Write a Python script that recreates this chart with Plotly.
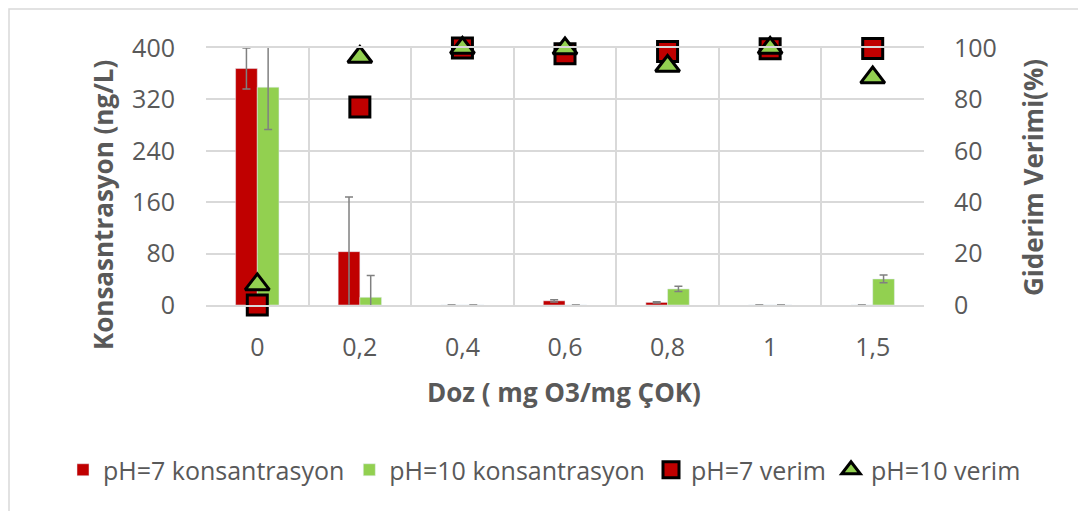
import plotly.graph_objects as go

categories = ["0", "0,2", "0,4", "0,6", "0,8", "1", "1,5"]
ph7_conc = [368, 83, 0, 6.5, 4, 0, 0]
ph7_conc_err = [32, 85, None, 1.7, 1, None, None]
ph10_conc = [339, 12, 0, 0, 25, 0, 40.5]
ph10_conc_err = [66, 34, None, None, 4, None, 6]
ph7_eff = [0, 77, 100, 97.8, 98.6, 99.7, 99.8]
ph10_eff = [8, 96.5, 100, 99.8, 93, 100, 88.5]

RED = "#C00000"
GREEN = "#92D050"
TXT = "#595959"
GRID = "#D9D9D9"
FONT = "Open Sans"

fig = go.Figure()
fig.add_trace(go.Bar(
    x=categories, y=ph7_conc, name="pH=7 konsantrasyon", marker_color=RED, legend="legend",
    error_y=dict(type="data", array=ph7_conc_err, color="#808080", thickness=1.5, width=4),
))
fig.add_trace(go.Bar(
    x=categories, y=ph10_conc, name="pH=10 konsantrasyon", marker_color=GREEN, legend="legend",
    error_y=dict(type="data", array=ph10_conc_err, color="#808080", thickness=1.5, width=4),
))
fig.add_trace(go.Scatter(
    x=categories, y=ph7_eff, name="pH=7 verim", yaxis="y2", mode="markers", legend="legend2",
    marker=dict(symbol="square", size=20, color=RED, line=dict(color="black", width=3)),
    cliponaxis=False,
))
fig.add_trace(go.Scatter(
    x=categories, y=ph10_eff, name="pH=10 verim", yaxis="y2", mode="markers", legend="legend2",
    marker=dict(symbol="triangle-up", size=21, color=GREEN, line=dict(color="black", width=3)),
    cliponaxis=False,
))

# page body margin offsets the figure by 8px; work in reference-pixel coordinates
OFF = 8
W, H = 1086 - OFF, 511 - OFF
L, R, T, B = 206 - OFF, 924 - OFF, 48 - OFF, 305 - OFF
pw, ph = R - L, B - T

def px(x):
    return (x - OFF - L) / pw

def py(y):
    return (B - (y - OFF)) / ph

def cx(x):
    return (x - OFF) / W

def cy(y):
    return 1 - (y - OFF) / H

legend_common = dict(orientation="h", xref="container", yref="container", yanchor="middle",
                     xanchor="left", font=dict(family=FONT, size=25, color=TXT), itemwidth=30,
                     traceorder="normal", bgcolor="rgba(0,0,0,0)")

fig.update_layout(
    width=W, height=H,
    margin=dict(l=L, r=W - R, t=T, b=H - B, pad=0, autoexpand=False),
    paper_bgcolor="white", plot_bgcolor="white",
    font=dict(family=FONT, size=25, color=TXT),
    barmode="group", bargap=0.577, bargroupgap=0,
    showlegend=True,
    legend=dict(x=cx(63), y=cy(470), **legend_common),
    legend2=dict(x=cx(651), y=cy(470), **legend_common),
    xaxis=dict(type="category", tickson="boundaries", showgrid=True, gridcolor=GRID, gridwidth=1.5,
               showline=True, linecolor=GRID, linewidth=1.5, mirror=True, automargin=False,
               ticks="", tickfont=dict(family=FONT, size=25, color=TXT), ticklabelstandoff=19,
               range=[-0.5, 6.5]),
    yaxis=dict(range=[0, 400], tickvals=[0, 80, 160, 240, 320, 400], showgrid=True,
               gridcolor=GRID, gridwidth=1.5, zeroline=False, ticks="", automargin=False,
               tickfont=dict(family=FONT, size=25, color=TXT), ticklabelstandoff=30),
    yaxis2=dict(range=[0, 100], tickvals=[0, 20, 40, 60, 80, 100], overlaying="y", side="right",
                showgrid=False, zeroline=False, ticks="", automargin=False,
                tickfont=dict(family=FONT, size=25, color=TXT), ticklabelstandoff=29),
    annotations=[
        dict(text="<b>Konsasntrasyon (ng/L)</b>", xref="paper", yref="paper", x=px(103), y=py(205),
             textangle=-90, showarrow=False, xanchor="center", yanchor="middle",
             font=dict(family=FONT, size=26, color=TXT)),
        dict(text="<b>Giderim Verimi(%)</b>", xref="paper", yref="paper", x=px(1033), y=py(178),
             textangle=-90, showarrow=False, xanchor="center", yanchor="middle",
             font=dict(family=FONT, size=26, color=TXT)),
        dict(text="<b>Doz ( mg O3/mg ÇOK)</b>", xref="paper", yref="paper", x=px(564), y=py(392),
             showarrow=False, xanchor="center", yanchor="middle",
             font=dict(family=FONT, size=26, color=TXT)),
    ],
    shapes=[
        dict(type="rect", xref="paper", yref="paper", x0=px(9), x1=px(1082), y0=py(530), y1=py(9),
             line=dict(color=GRID, width=1.5), fillcolor="rgba(0,0,0,0)", layer="below"),
    ],
)

fig.write_html("out.html")
